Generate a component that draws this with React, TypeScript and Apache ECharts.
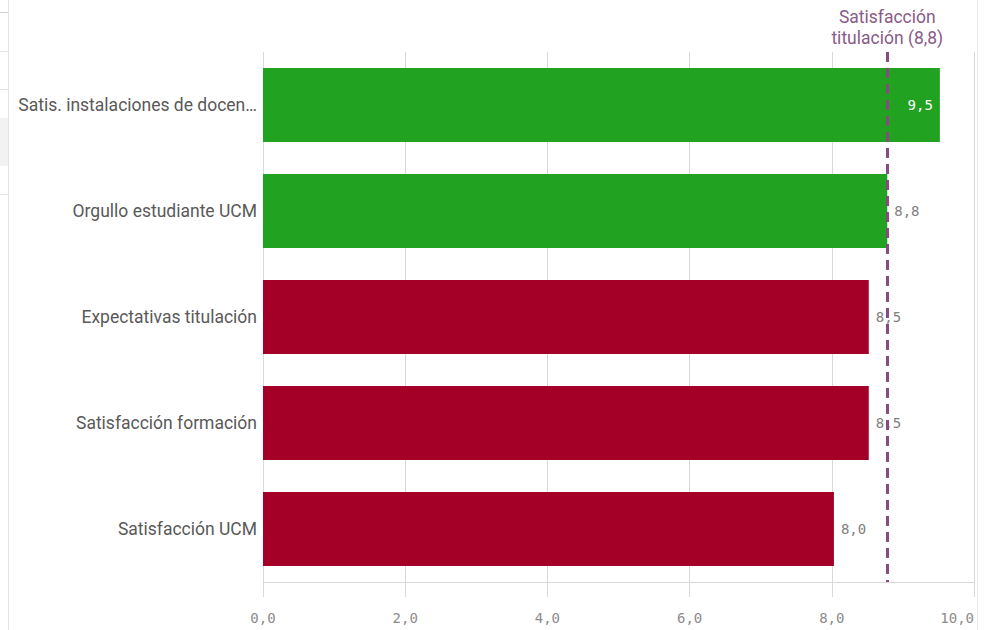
import React, { useEffect, useRef } from "react";
import * as echarts from "echarts";

const categories = [
  "Satis. instalaciones de docen…",
  "Orgullo estudiante UCM",
  "Expectativas titulación",
  "Satisfacción formación",
  "Satisfacción UCM",
];
const values = [9.52, 8.78, 8.52, 8.52, 8.03];
const targetValue = 8.78;
const targetLabel = ["Satisfacción", "titulación (8,8)"];
const xTicks = [0, 2, 4, 6, 8, 10];

const fmt = (v: number) => v.toFixed(1).replace(".", ",");

export default function App() {
  const ref = useRef<HTMLDivElement>(null);
  useEffect(() => {
    const chart = echarts.init(ref.current!, null, { renderer: "svg" });
    const green = "#21a221";
    const red = "#a40027";
    const frame = "#e4e4e4";
    chart.setOption({
      animation: false,
      backgroundColor: "#ffffff",
      grid: { left: 263, right: 18, top: 52, bottom: 48, containLabel: false },
      xAxis: {
        type: "value",
        min: xTicks[0],
        max: xTicks[xTicks.length - 1],
        interval: 2,
        axisLine: { show: true, lineStyle: { color: "#d9d9d9", width: 1 } },
        axisTick: { show: true, length: 15, lineStyle: { color: "#d9d9d9" } },
        splitLine: { show: true, lineStyle: { color: "#d9d9d9", width: 1 } },
        axisLabel: {
          formatter: (v: number) => fmt(v),
          color: "#8c8c8c",
          fontSize: 14,
          fontFamily: "DejaVu Sans Mono",
          margin: 29,
          alignMaxLabel: "right",
        },
      },
      yAxis: {
        type: "category",
        data: categories,
        inverse: true,
        axisLine: { show: false },
        axisTick: { show: false },
        axisLabel: {
          color: "#595959",
          fontSize: 17.5,
          fontFamily: "Roboto",
          margin: 6,
        },
      },
      graphic: [
        { type: "line", shape: { x1: 8.5, y1: 0, x2: 8.5, y2: 630 }, style: { stroke: frame, lineWidth: 1 } },
        { type: "line", shape: { x1: 977.5, y1: 0, x2: 977.5, y2: 630 }, style: { stroke: "#ececec", lineWidth: 1 } },
        { type: "line", shape: { x1: 0, y1: 12.5, x2: 8, y2: 12.5 }, style: { stroke: "#cfcfcf", lineWidth: 1 } },
        { type: "line", shape: { x1: 0, y1: 51.5, x2: 8, y2: 51.5 }, style: { stroke: frame, lineWidth: 1 } },
        { type: "line", shape: { x1: 0, y1: 89.5, x2: 8, y2: 89.5 }, style: { stroke: frame, lineWidth: 1 } },
        { type: "rect", shape: { x: 0, y: 118, width: 8, height: 48 }, style: { fill: "#f2f2f2" } },
        { type: "line", shape: { x1: 0, y1: 194.5, x2: 8, y2: 194.5 }, style: { stroke: frame, lineWidth: 1 } },
      ],
      series: [
        {
          type: "bar",
          barCategoryGap: "30%",
          data: values.map((v, i) => ({
            value: v,
            itemStyle: { color: v >= targetValue ? green : red },
            label:
              i === 0
                ? { position: "insideRight", color: "#ffffff", distance: 7 }
                : { position: "right", color: "#808080", distance: 7 },
          })),
          label: {
            show: true,
            formatter: (p: any) => fmt(p.value),
            fontSize: 14,
            fontFamily: "DejaVu Sans Mono",
          },
          markLine: {
            silent: true,
            symbol: ["none", "none"],
            lineStyle: { color: "#874b80", width: 3, type: [10, 6] },
            label: {
              show: true,
              position: "start",
              formatter: targetLabel.join("\n"),
              color: "#8a5a87",
              fontSize: 17.5,
              fontFamily: "Roboto",
              lineHeight: 21,
              distance: 4,
            },
            data: [{ xAxis: targetValue }],
          },
        },
      ],
    });
    return () => chart.dispose();
  }, []);
  return (
    <div
      ref={ref}
      style={{ position: "absolute", left: 0, top: 0, width: 992, height: 630 }}
    />
  );
}
